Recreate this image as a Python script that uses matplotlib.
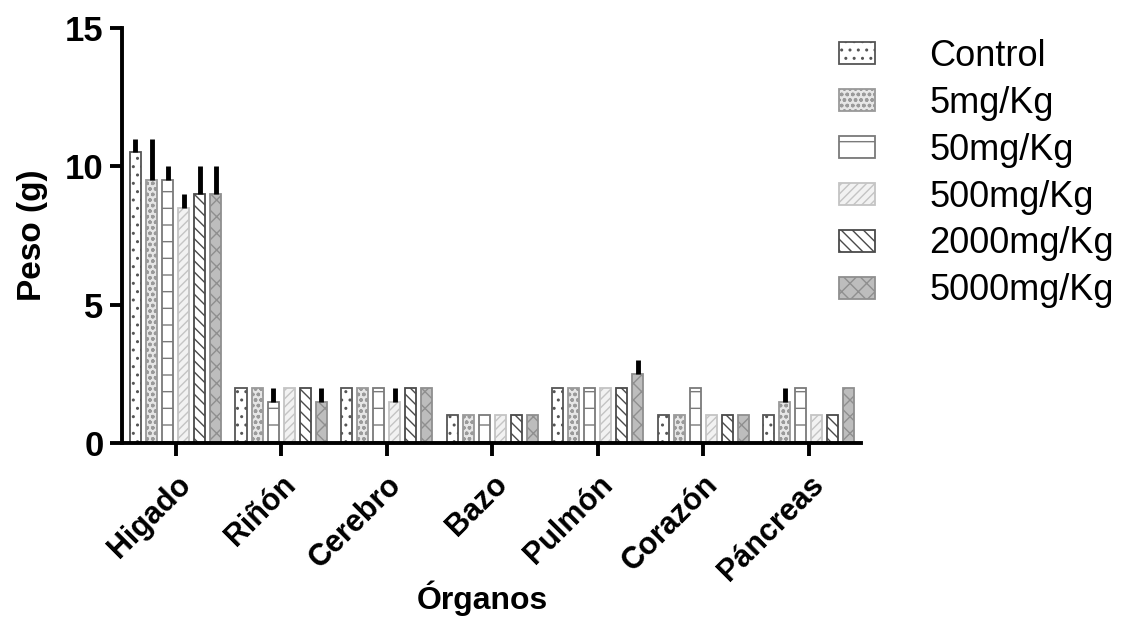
import numpy as np
from matplotlib import pyplot as plt

plt.rcParams['font.family'] = ['Liberation Sans', 'DejaVu Sans']
plt.rcParams['hatch.linewidth'] = 1.0

organos = ['Higado', 'Riñón', 'Cerebro', 'Bazo', 'Pulmón', 'Corazón', 'Páncreas']
grupos = ['Control', '5mg/Kg', '50mg/Kg', '500mg/Kg', '2000mg/Kg', '5000mg/Kg']

# peso medio (g) por grupo, en el orden de organos
control = [10.5, 2.0, 2.0, 1.0, 2.0, 1.0, 1.0]
dosis_5 = [9.5, 2.0, 2.0, 1.0, 2.0, 1.0, 1.5]
dosis_50 = [9.5, 1.5, 2.0, 1.0, 2.0, 2.0, 2.0]
dosis_500 = [8.5, 2.0, 1.5, 1.0, 2.0, 1.0, 1.0]
dosis_2000 = [9.0, 2.0, 2.0, 1.0, 2.0, 1.0, 1.0]
dosis_5000 = [9.0, 1.5, 2.0, 1.0, 2.5, 1.0, 2.0]

# desviacion (solo hacia arriba)
err_control = [0.5, 0, 0, 0, 0, 0, 0]
err_5 = [1.5, 0, 0, 0, 0, 0, 0.5]
err_50 = [0.5, 0.5, 0, 0, 0, 0, 0]
err_500 = [0.5, 0, 0.5, 0, 0, 0, 0]
err_2000 = [1.0, 0, 0, 0, 0, 0, 0]
err_5000 = [1.0, 0.5, 0, 0, 0.5, 0, 0]

valores = [control, dosis_5, dosis_50, dosis_500, dosis_2000, dosis_5000]
errores = [err_control, err_5, err_50, err_500, err_2000, err_5000]

estilos = [
    dict(facecolor='white', edgecolor='#555555', hatch='..'),
    dict(facecolor='#e6e6e6', edgecolor='#9a9a9a', hatch='ooo'),
    dict(facecolor='white', edgecolor='#7a7a7a', hatch='-'),
    dict(facecolor='#f2f2f2', edgecolor='#c4c4c4', hatch='////'),
    dict(facecolor='white', edgecolor='#4a4a4a', hatch='\\\\\\'),
    dict(facecolor='#bdbdbd', edgecolor='#8f8f8f', hatch='xx'),
]

fig = plt.figure(figsize=(11.38, 6.33), dpi=100)
ax = fig.add_axes([0.107, 0.30, 0.650, 0.656])

x = np.arange(len(organos))
paso = 0.152
ancho = 0.105
for i, (v, e, st) in enumerate(zip(valores, errores, estilos)):
    pos = x + (i - 2.5) * paso
    ax.bar(pos, v, width=ancho, linewidth=1.3, label=grupos[i], **st)
    e = np.array(e)
    m = e > 0
    ax.errorbar(pos[m], np.array(v)[m], yerr=[np.zeros(m.sum()), e[m]],
                fmt='none', ecolor='black', elinewidth=3.5, capsize=0)

ax.set_xlim(-0.51, 6.5)
ax.set_ylim(0, 15)
ax.set_yticks([0, 5, 10, 15])
ax.set_xticks(x)
ax.set_xticklabels(organos, rotation=45, ha='right', rotation_mode='anchor',
                   fontsize=22, fontweight='bold')
for lab in ax.get_yticklabels():
    lab.set_fontsize(25)
    lab.set_fontweight('bold')

for s in ['top', 'right']:
    ax.spines[s].set_visible(False)
for s in ['left', 'bottom']:
    ax.spines[s].set_linewidth(2.8)
ax.tick_params(axis='y', direction='out', length=9, width=2.8, pad=4)
ax.tick_params(axis='x', direction='out', length=9, width=2.8, pad=10)

ax.set_ylabel('Peso (g)', fontsize=24, fontweight='bold', labelpad=12)
fig.text(0.424, 0.055, 'Órganos', fontsize=23, fontweight='bold',
         ha='center', va='center')

fig.legend(loc='upper left', bbox_to_anchor=(0.709, 0.99), frameon=False,
           fontsize=26, handlelength=1.0, handleheight=0.55,
           labelspacing=0.33, handletextpad=1.5)

fig.savefig('out.png', dpi=100)
